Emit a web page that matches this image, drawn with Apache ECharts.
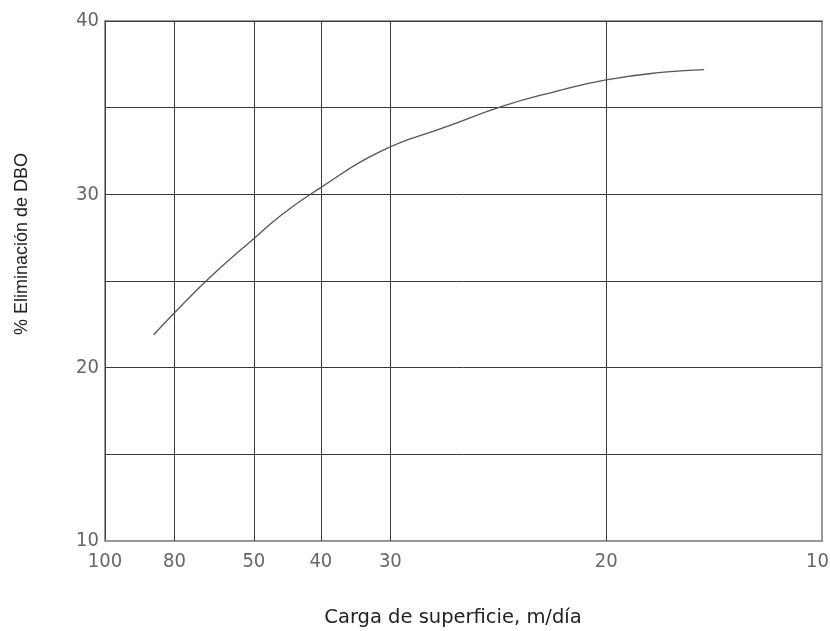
<!DOCTYPE html>
<html>
<head>
<meta charset="utf-8">
<script src="https://cdn.jsdelivr.net/npm/echarts@6/dist/echarts.min.js"></script>
<style>html,body{margin:0;padding:0;background:#fff}#c{width:830px;height:631px}</style>
</head>
<body>
<div id="c"></div>
<script>
// X axis (log scale, reversed). Gridline positions on the log scale and the labels the figure prints at them.
const xTickValues = [100, 80, 62, 50, 40, 20, 10];
const xTickLabels = ['100', '80', '50', '40', '30', '20', '10'];
const xGridValues = [80, 62, 50, 40, 20];
// Y axis
const yTickLabels = [10, 20, 30, 40];
// Curve: surface load (log-axis units) vs % BOD removal
const cargaValues = [85.5, 80.3, 71.0, 61.8, 56.4, 50.4, 41.4, 33.4, 27.8, 23.7, 20.0, 16.6, 14.6];
const eliminacionValues = [21.9, 23.1, 25.3, 27.5, 28.9, 30.3, 32.45, 33.9, 35.1, 35.9, 36.6, 37.05, 37.2];

const xLabel = 'Carga de superficie, m/día';
const yLabel = '% Eliminación de DBO';

const chart = echarts.init(document.getElementById('c'), null, {renderer: 'canvas'});
const curve = cargaValues.map((x, i) => [x, eliminacionValues[i]]);
function labelFor(v) {
  let best = 0, bd = Infinity;
  xTickValues.forEach((t, i) => { const d = Math.abs(Math.log(t) - Math.log(v)); if (d < bd) { bd = d; best = i; } });
  if (bd >= 0.01) return '';
  return best === xTickValues.length - 1 ? '{r|' + xTickLabels[best] + '}' : xTickLabels[best];
}
const tickFont = '"Liberation Sans Narrow", "DejaVu Sans Condensed", sans-serif';
chart.setOption({
  animation: false,
  backgroundColor: '#fff',
  grid: {left: 105, right: 8, top: 21, bottom: 90, outerBoundsMode: 'none', containLabel: false,
         show: true, borderColor: '#999', borderWidth: 2, backgroundColor: 'transparent'},
  xAxis: {
    type: 'log', logBase: 10, min: 10, max: 100, inverse: true,
    axisLine: {show: true, lineStyle: {color: '#9a9a9a', width: 2}},
    axisTick: {show: false},
    splitLine: {show: false},
    minorTick: {show: false}, minorSplitLine: {show: false},
    axisLabel: {
      customValues: xTickValues,
      formatter: v => labelFor(v),
      color: '#666', fontFamily: tickFont,
      fontSize: 20, margin: 11, showMinLabel: true, showMaxLabel: true,
      rich: {r: {color: '#666', fontFamily: tickFont, fontSize: 20, padding: [0, 9, 0, 0]}}
    }
  },
  yAxis: {
    type: 'value', min: 10, max: 40, interval: 5,
    axisLine: {show: true, lineStyle: {color: '#444', width: 1}},
    axisTick: {show: false},
    splitLine: {show: true, lineStyle: {color: '#3a3a3a', width: 1}},
    axisLabel: {
      formatter: v => (yTickLabels.indexOf(v) >= 0 ? String(v) : ''),
      color: '#666', fontFamily: tickFont,
      fontSize: 20, margin: 6
    }
  },
  series: [{
    type: 'line', data: curve, smooth: 0.5, showSymbol: false, symbol: 'none',
    lineStyle: {color: '#555', width: 1.3},
    markLine: {
      silent: true, symbol: ['none', 'none'], label: {show: false},
      lineStyle: {color: '#3a3a3a', width: 1, type: 'solid'},
      data: xGridValues.map(v => ({xAxis: v}))
    },
    z: 5
  }],
  graphic: [
    {type: 'text', x: 453, y: 618, style: {text: xLabel, fill: '#222', font: '19.5px "DejaVu Sans", sans-serif', align: 'center', verticalAlign: 'middle'}},
    {type: 'text', x: 22, y: 244, rotation: Math.PI / 2, style: {text: yLabel, fill: '#222', font: '18px "Liberation Sans", Arial, sans-serif', align: 'center', verticalAlign: 'middle'}}
  ]
});
</script>
</body>
</html>
